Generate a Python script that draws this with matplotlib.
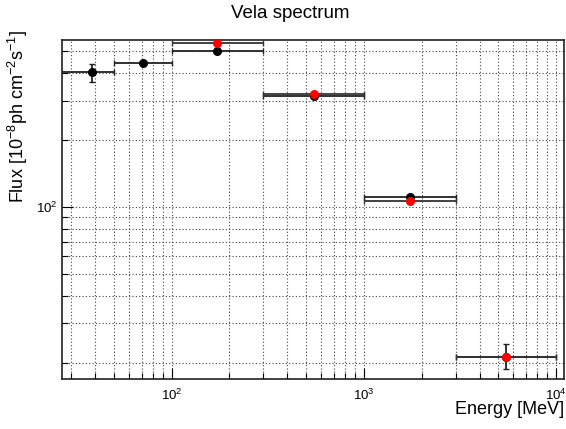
import numpy as np
import matplotlib
matplotlib.use("Agg")
import matplotlib.pyplot as plt
from matplotlib.ticker import LogLocator, NullFormatter

plt.rcParams['font.family'] = ['Liberation Sans', 'DejaVu Sans']
plt.rcParams['mathtext.fontset'] = 'custom'
plt.rcParams['mathtext.rm'] = 'Liberation Sans'
plt.rcParams['mathtext.it'] = 'Liberation Sans:italic'

# energy bins [MeV]
e_lo = np.array([20, 50, 100, 300, 1000, 3000])
e_hi = np.array([50, 100, 300, 1000, 3000, 10000])
e_c = np.array([38.7, 70.7, 173, 548, 1732, 5477])

# black series
flux_k = np.array([403, 443, 503, 315, 110.5, 21.3])
err_k_lo = np.array([40, 5, 6, 4, 1.5, 2.6])
err_k_hi = np.array([37, 5, 6, 4, 1.5, 2.9])

# red series (last four bins)
flux_r = np.array([543, 323, 106.7, 21.3])
idx_r = [2, 3, 4, 5]

fig = plt.figure(figsize=(5.66, 4.29), dpi=100)
ax = fig.add_axes([62 / 566, 1 - 379 / 429, (564 - 62) / 566, (379 - 40) / 429])

ax.errorbar(e_c, flux_k, xerr=[e_c - e_lo, e_hi - e_c], yerr=[err_k_lo, err_k_hi],
            fmt='o', color='k', ecolor='#222222', ms=5.5, elinewidth=1.3,
            capsize=2.5, capthick=1.0, zorder=3)
ax.errorbar(e_c[idx_r], flux_r, xerr=[e_c[idx_r] - e_lo[idx_r], e_hi[idx_r] - e_c[idx_r]],
            fmt='o', color='red', ecolor='#333333', ms=5.5, elinewidth=1.3,
            capsize=2.5, capthick=1.0, zorder=4)

ax.set_xscale('log')
ax.set_yscale('log')
ax.set_xlim(26.9, 11000)
ax.set_ylim(16.9, 562)

for a in (ax.xaxis, ax.yaxis):
    a.set_major_locator(LogLocator(base=10))
    a.set_minor_locator(LogLocator(base=10, subs=np.arange(2, 10)))
    a.set_minor_formatter(NullFormatter())

ax.grid(True, which='both', color='#444444', linestyle=(0, (1, 2)), linewidth=0.8)
ax.tick_params(which='both', direction='in', labelsize=9.5)
ax.tick_params(axis='x', pad=6)
ax.tick_params(which='major', length=8, width=0.8)
ax.tick_params(which='minor', length=4.5, width=0.8)
for s in ax.spines.values():
    s.set_linewidth(1.2)
    s.set_color('#222222')

fig.text(290 / 566, 1 - 13 / 429, 'Vela spectrum', ha='center', va='center', fontsize=13.5)
fig.text(18 / 566, 1 - 30 / 429, r'Flux [10$^{-8}$ph cm$^{-2}$s$^{-1}$]',
         rotation=90, ha='center', va='top', fontsize=13)
fig.text(564 / 566, 1 - 414 / 429, 'Energy [MeV]', ha='right', va='baseline', fontsize=13)

fig.savefig('out.png', dpi=100)
